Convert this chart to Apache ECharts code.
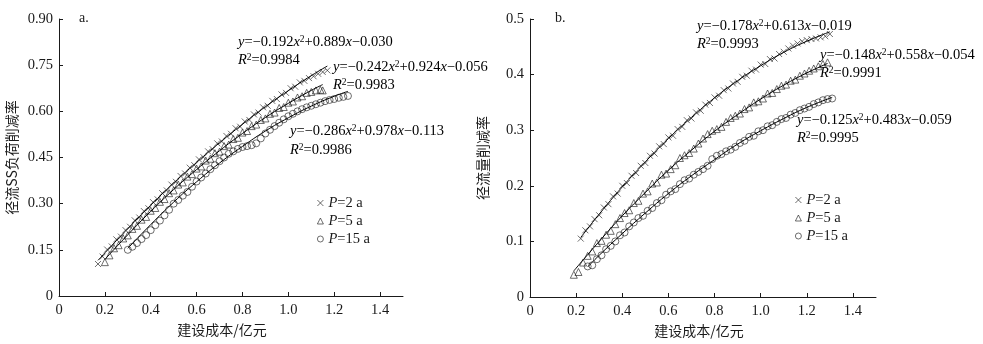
<!DOCTYPE html>
<html>
<head>
<meta charset="utf-8">
<script src="https://cdn.jsdelivr.net/npm/echarts@6/dist/echarts.min.js"></script>
<style>
  html, body { margin: 0; padding: 0; background: #fff; }
  #chart { width: 983px; height: 344px; }
</style>
</head>
<body>
<div id="chart"></div>
<script>
// 图a：径流SS负荷削减率
const costA2 = [0.17,0.19,0.21,0.23,0.25,0.27,0.29,0.31,0.33,0.35,0.37,0.39,0.41,0.43,0.45,0.47,0.49,0.51,0.53,0.55,0.57,0.59,0.61,0.63,0.65,0.67,0.69,0.71,0.73,0.75,0.77,0.79,0.81,0.83,0.85,0.87,0.89,0.91,0.93,0.95,0.97,0.99,1.01,1.03,1.05,1.07,1.09,1.11,1.13,1.15,1.17]
const rateA2 = [0.104,0.128,0.151,0.161,0.184,0.193,0.214,0.225,0.246,0.255,0.276,0.285,0.305,0.314,0.334,0.343,0.362,0.371,0.390,0.398,0.417,0.425,0.444,0.451,0.470,0.477,0.496,0.502,0.520,0.527,0.545,0.550,0.567,0.572,0.590,0.596,0.613,0.618,0.634,0.640,0.655,0.660,0.675,0.680,0.694,0.699,0.708,0.714,0.722,0.728,0.733]
const costA5 = [0.20,0.22,0.24,0.26,0.28,0.30,0.32,0.34,0.36,0.38,0.40,0.42,0.44,0.46,0.48,0.50,0.52,0.54,0.56,0.58,0.60,0.62,0.64,0.66,0.68,0.70,0.72,0.74,0.76,0.78,0.80,0.82,0.84,0.86,0.88,0.90,0.92,0.94,0.96,0.98,1.00,1.02,1.04,1.06,1.08,1.10,1.12,1.14,1.15]
const rateA5 = [0.110,0.132,0.155,0.165,0.187,0.197,0.218,0.228,0.248,0.257,0.277,0.286,0.306,0.315,0.334,0.343,0.362,0.369,0.388,0.396,0.414,0.421,0.440,0.446,0.464,0.469,0.487,0.492,0.510,0.514,0.531,0.536,0.552,0.557,0.572,0.577,0.592,0.596,0.611,0.614,0.628,0.632,0.645,0.649,0.660,0.663,0.668,0.670,0.668]
const costA15 = [0.30,0.32,0.34,0.36,0.38,0.40,0.42,0.44,0.46,0.48,0.50,0.52,0.54,0.56,0.58,0.60,0.62,0.64,0.66,0.68,0.70,0.72,0.74,0.76,0.78,0.80,0.82,0.84,0.86,0.88,0.90,0.92,0.94,0.96,0.98,1.00,1.02,1.04,1.06,1.08,1.10,1.12,1.14,1.16,1.18,1.20,1.22,1.24,1.26]
const rateA15 = [0.150,0.160,0.172,0.185,0.198,0.214,0.230,0.245,0.262,0.280,0.300,0.312,0.326,0.338,0.355,0.372,0.385,0.398,0.412,0.425,0.438,0.450,0.462,0.470,0.478,0.484,0.487,0.490,0.496,0.512,0.528,0.540,0.552,0.563,0.574,0.584,0.592,0.600,0.607,0.613,0.618,0.623,0.628,0.633,0.637,0.640,0.644,0.647,0.650]

// 拟合曲线
const fitCostA2 = [0.17,0.3,0.4,0.5,0.6,0.7,0.8,0.9,1.0,1.1,1.17]
const fitRateA2 = [0.116,0.219,0.295,0.367,0.434,0.498,0.558,0.615,0.667,0.716,0.747]
const fitCostA5 = [0.2,0.3,0.4,0.5,0.6,0.7,0.8,0.9,1.0,1.1,1.15]
const fitRateA5 = [0.119,0.199,0.275,0.346,0.411,0.472,0.528,0.580,0.626,0.668,0.687]
const fitCostA15 = [0.3,0.4,0.5,0.6,0.7,0.8,0.9,1.0,1.1,1.2,1.26]
const fitRateA15 = [0.155,0.232,0.305,0.371,0.432,0.486,0.536,0.579,0.617,0.649,0.665]

// 图b：径流量削减率
const costB2 = [0.22,0.24,0.26,0.28,0.30,0.32,0.34,0.36,0.38,0.40,0.42,0.44,0.46,0.48,0.50,0.52,0.54,0.56,0.58,0.60,0.62,0.64,0.66,0.68,0.70,0.72,0.74,0.76,0.78,0.80,0.82,0.84,0.86,0.88,0.90,0.92,0.94,0.96,0.98,1.00,1.02,1.04,1.06,1.08,1.10,1.12,1.14,1.16,1.18,1.20,1.22,1.24,1.26,1.28,1.30]
const rateB2 = [0.105,0.120,0.127,0.140,0.147,0.161,0.167,0.181,0.186,0.200,0.205,0.218,0.223,0.236,0.241,0.254,0.258,0.271,0.275,0.287,0.290,0.302,0.306,0.318,0.321,0.332,0.335,0.346,0.349,0.359,0.362,0.372,0.375,0.384,0.387,0.396,0.398,0.407,0.409,0.418,0.419,0.428,0.429,0.437,0.441,0.447,0.452,0.456,0.460,0.462,0.464,0.465,0.467,0.469,0.473]
const costB5 = [0.19,0.21,0.23,0.25,0.27,0.29,0.31,0.33,0.35,0.37,0.39,0.41,0.43,0.45,0.47,0.49,0.51,0.53,0.55,0.57,0.59,0.61,0.63,0.65,0.67,0.69,0.71,0.73,0.75,0.77,0.79,0.81,0.83,0.85,0.87,0.89,0.91,0.93,0.95,0.97,0.99,1.01,1.03,1.05,1.07,1.09,1.11,1.13,1.15,1.17,1.19,1.21,1.23,1.25,1.27,1.29]
const rateB5 = [0.040,0.045,0.062,0.074,0.082,0.097,0.101,0.112,0.119,0.131,0.142,0.151,0.156,0.169,0.173,0.186,0.190,0.204,0.206,0.220,0.222,0.230,0.237,0.250,0.255,0.259,0.267,0.276,0.285,0.293,0.299,0.302,0.306,0.315,0.322,0.326,0.330,0.338,0.341,0.350,0.352,0.357,0.366,0.367,0.374,0.380,0.382,0.389,0.391,0.398,0.402,0.407,0.411,0.415,0.419,0.422]
const costB15 = [0.25,0.27,0.29,0.31,0.33,0.35,0.37,0.39,0.41,0.43,0.45,0.47,0.49,0.51,0.53,0.55,0.57,0.59,0.61,0.63,0.65,0.67,0.69,0.71,0.73,0.75,0.77,0.79,0.81,0.83,0.85,0.87,0.89,0.91,0.93,0.95,0.97,0.99,1.01,1.03,1.05,1.07,1.09,1.11,1.13,1.15,1.17,1.19,1.21,1.23,1.25,1.27,1.29,1.31]
const rateB15 = [0.055,0.057,0.068,0.075,0.086,0.092,0.100,0.111,0.116,0.127,0.134,0.142,0.146,0.155,0.160,0.169,0.174,0.184,0.190,0.194,0.203,0.210,0.213,0.220,0.225,0.230,0.236,0.248,0.254,0.257,0.262,0.265,0.270,0.277,0.281,0.288,0.290,0.298,0.300,0.307,0.309,0.315,0.320,0.322,0.328,0.331,0.336,0.339,0.342,0.347,0.350,0.354,0.356,0.357]

const fitCostB2 = [0.22,0.3,0.4,0.5,0.6,0.7,0.8,0.9,1.0,1.1,1.2,1.3]
const fitRateB2 = [0.107,0.149,0.198,0.243,0.285,0.323,0.358,0.389,0.416,0.440,0.460,0.477]
const fitCostB5 = [0.19,0.3,0.4,0.5,0.6,0.7,0.8,0.9,1.0,1.1,1.2,1.29]
const fitRateB5 = [0.047,0.100,0.146,0.188,0.228,0.264,0.298,0.328,0.356,0.381,0.403,0.420]
const fitCostB15 = [0.25,0.3,0.4,0.5,0.6,0.7,0.8,0.9,1.0,1.1,1.2,1.31]
const fitRateB15 = [0.054,0.075,0.114,0.151,0.186,0.218,0.247,0.275,0.299,0.321,0.341,0.359]

// 坐标轴刻度
const xTicks = [0, 0.2, 0.4, 0.6, 0.8, 1.0, 1.2, 1.4]
const legendNums = ['2', '5', '15']
const equationsA = [
    ['0.192', '0.889', '0.030', '0.9984'],
    ['0.242', '0.924', '0.056', '0.9983'],
    ['0.286', '0.978', '0.113', '0.9986']
]
const equationsB = [
    ['0.178', '0.613', '0.019', '0.9993'],
    ['0.148', '0.558', '0.054', '0.9991'],
    ['0.125', '0.483', '0.059', '0.9995']
]

const serif = '"Liberation Serif", "Times New Roman", serif'
const cjk = '"Noto Sans CJK SC", sans-serif'
const ink = '#1a1a1a'

function pairs (xs, ys) {
    return xs.map((x, i) => [x, ys[i]])
}

const crossPath = 'path://M0,0L10,10M0,10L10,0'
const symbols = [crossPath, 'triangle', 'circle']
const symbolSizes = [6, 7, 7]

function scatter (name, idx, xs, ys, symbol, size) {
    return {
        name: name,
        type: 'scatter',
        xAxisIndex: idx,
        yAxisIndex: idx,
        data: pairs(xs, ys),
        symbol: symbol,
        symbolSize: size,
        itemStyle: { color: 'rgba(255,255,255,0)', borderColor: ink, borderWidth: 0.8 },
        emphasis: { disabled: true },
        z: 3
    }
}

function fitLine (idx, xs, ys) {
    return {
        type: 'line',
        xAxisIndex: idx,
        yAxisIndex: idx,
        data: pairs(xs, ys),
        smooth: true,
        showSymbol: false,
        lineStyle: { color: '#000', width: 1 },
        emphasis: { disabled: true },
        silent: true,
        z: 4
    }
}

function xAxis (idx) {
    return {
        type: 'value',
        gridIndex: idx,
        min: 0,
        max: 1.5,
        name: '建设成本/亿元',
        nameLocation: 'middle',
        nameGap: 27,
        nameTextStyle: { fontFamily: cjk, fontSize: 14, color: ink, padding: idx === 0 ? [0, 18, 0, 0] : [0, 8, 0, 0] },
        axisLine: { lineStyle: { color: ink, width: 1 } },
        axisTick: { inside: true, length: 4, customValues: xTicks, lineStyle: { color: ink } },
        axisLabel: {
            customValues: xTicks,
            margin: 7,
            fontFamily: serif,
            fontSize: 14.5,
            color: ink,
            formatter: v => v === 0 ? '0' : v.toFixed(1)
        },
        splitLine: { show: false }
    }
}

function yAxis (idx, max, interval, digits, name) {
    return {
        type: 'value',
        gridIndex: idx,
        min: 0,
        max: max,
        interval: interval,
        name: name,
        nameLocation: 'middle',
        nameGap: 40,
        nameTextStyle: { fontFamily: cjk, fontSize: 14, color: ink },
        axisLine: { show: true, lineStyle: { color: ink, width: 1 } },
        axisTick: { show: true, inside: true, length: 4, lineStyle: { color: ink } },
        axisLabel: {
            margin: 6,
            fontFamily: serif,
            fontSize: 14.5,
            color: ink,
            formatter: v => v === 0 ? '0' : v.toFixed(digits)
        },
        splitLine: { show: false }
    }
}

const richText = {
    i: { fontFamily: serif, fontSize: 14.5, fontStyle: 'italic', color: ink, lineHeight: 16 },
    n: { fontFamily: serif, fontSize: 14.5, color: ink, lineHeight: 16 },
    s: { fontFamily: serif, fontSize: 9.5, color: ink, lineHeight: 16, verticalAlign: 'top', padding: [0, 0, 6, 0] }
}

function eqText (left, top, c) {
    return {
        type: 'text',
        left: left,
        top: top,
        style: {
            text: '{i|y}{n|=−' + c[0] + '}{i|x}{s|2}{n|+' + c[1] + '}{i|x}{n|−' + c[2] + '}',
            rich: richText
        }
    }
}

function r2Text (left, top, c) {
    return {
        type: 'text',
        left: left,
        top: top,
        style: {
            text: '{i|R}{s|2}{n|=' + c[3] + '}',
            rich: richText
        }
    }
}

function legend (prefix, left, top) {
    return {
        orient: 'vertical',
        left: left,
        top: top,
        itemWidth: 6,
        itemHeight: 6,
        itemGap: 2,
        selectedMode: false,
        data: legendNums.map(n => prefix + n),
        itemStyle: { color: 'rgba(255,255,255,0)', borderColor: ink, borderWidth: 0.8 },
        formatter: name => '{i|P}{n|=' + name.slice(1) + ' a}',
        textStyle: { rich: richText, lineHeight: 16 }
    }
}

const series = [
    scatter('a2', 0, costA2, rateA2, symbols[0], symbolSizes[0]),
    scatter('a5', 0, costA5, rateA5, symbols[1], symbolSizes[1]),
    scatter('a15', 0, costA15, rateA15, symbols[2], symbolSizes[2]),
    fitLine(0, fitCostA2, fitRateA2),
    fitLine(0, fitCostA5, fitRateA5),
    fitLine(0, fitCostA15, fitRateA15),
    scatter('b2', 1, costB2, rateB2, symbols[0], symbolSizes[0]),
    scatter('b5', 1, costB5, rateB5, symbols[1], symbolSizes[1]),
    scatter('b15', 1, costB15, rateB15, symbols[2], symbolSizes[2]),
    fitLine(1, fitCostB2, fitRateB2),
    fitLine(1, fitCostB5, fitRateB5),
    fitLine(1, fitCostB15, fitRateB15)
]

let myChart = echarts.init(document.getElementById('chart'))
myChart.setOption({
    animation: false,
    backgroundColor: '#fff',
    grid: [
        { left: 59, top: 19, width: 344, height: 277 },
        { left: 530, top: 19, width: 346, height: 278 }
    ],
    xAxis: [xAxis(0), xAxis(1)],
    yAxis: [
        yAxis(0, 0.9, 0.15, 2, '径流SS负荷削减率'),
        yAxis(1, 0.5, 0.1, 1, '径流量削减率')
    ],
    legend: [legend('a', 312, 190), legend('b', 790, 187)],
    graphic: [
        { type: 'text', left: 79, top: 11, style: { text: 'a.', font: '14px ' + serif, fill: ink } },
        { type: 'text', left: 555, top: 11, style: { text: 'b.', font: '14px ' + serif, fill: ink } },
        eqText(238, 34, equationsA[0]), r2Text(238, 52, equationsA[0]),
        eqText(333, 59, equationsA[1]), r2Text(333, 77, equationsA[1]),
        eqText(290, 123, equationsA[2]), r2Text(290, 142, equationsA[2]),
        eqText(697, 18, equationsB[0]), r2Text(697, 36, equationsB[0]),
        eqText(820, 47, equationsB[1]), r2Text(820, 65, equationsB[1]),
        eqText(797, 112, equationsB[2]), r2Text(797, 130, equationsB[2])
    ],
    series: series
})
window.addEventListener('resize', function () {
    myChart.resize()
})
</script>
</body>
</html>
